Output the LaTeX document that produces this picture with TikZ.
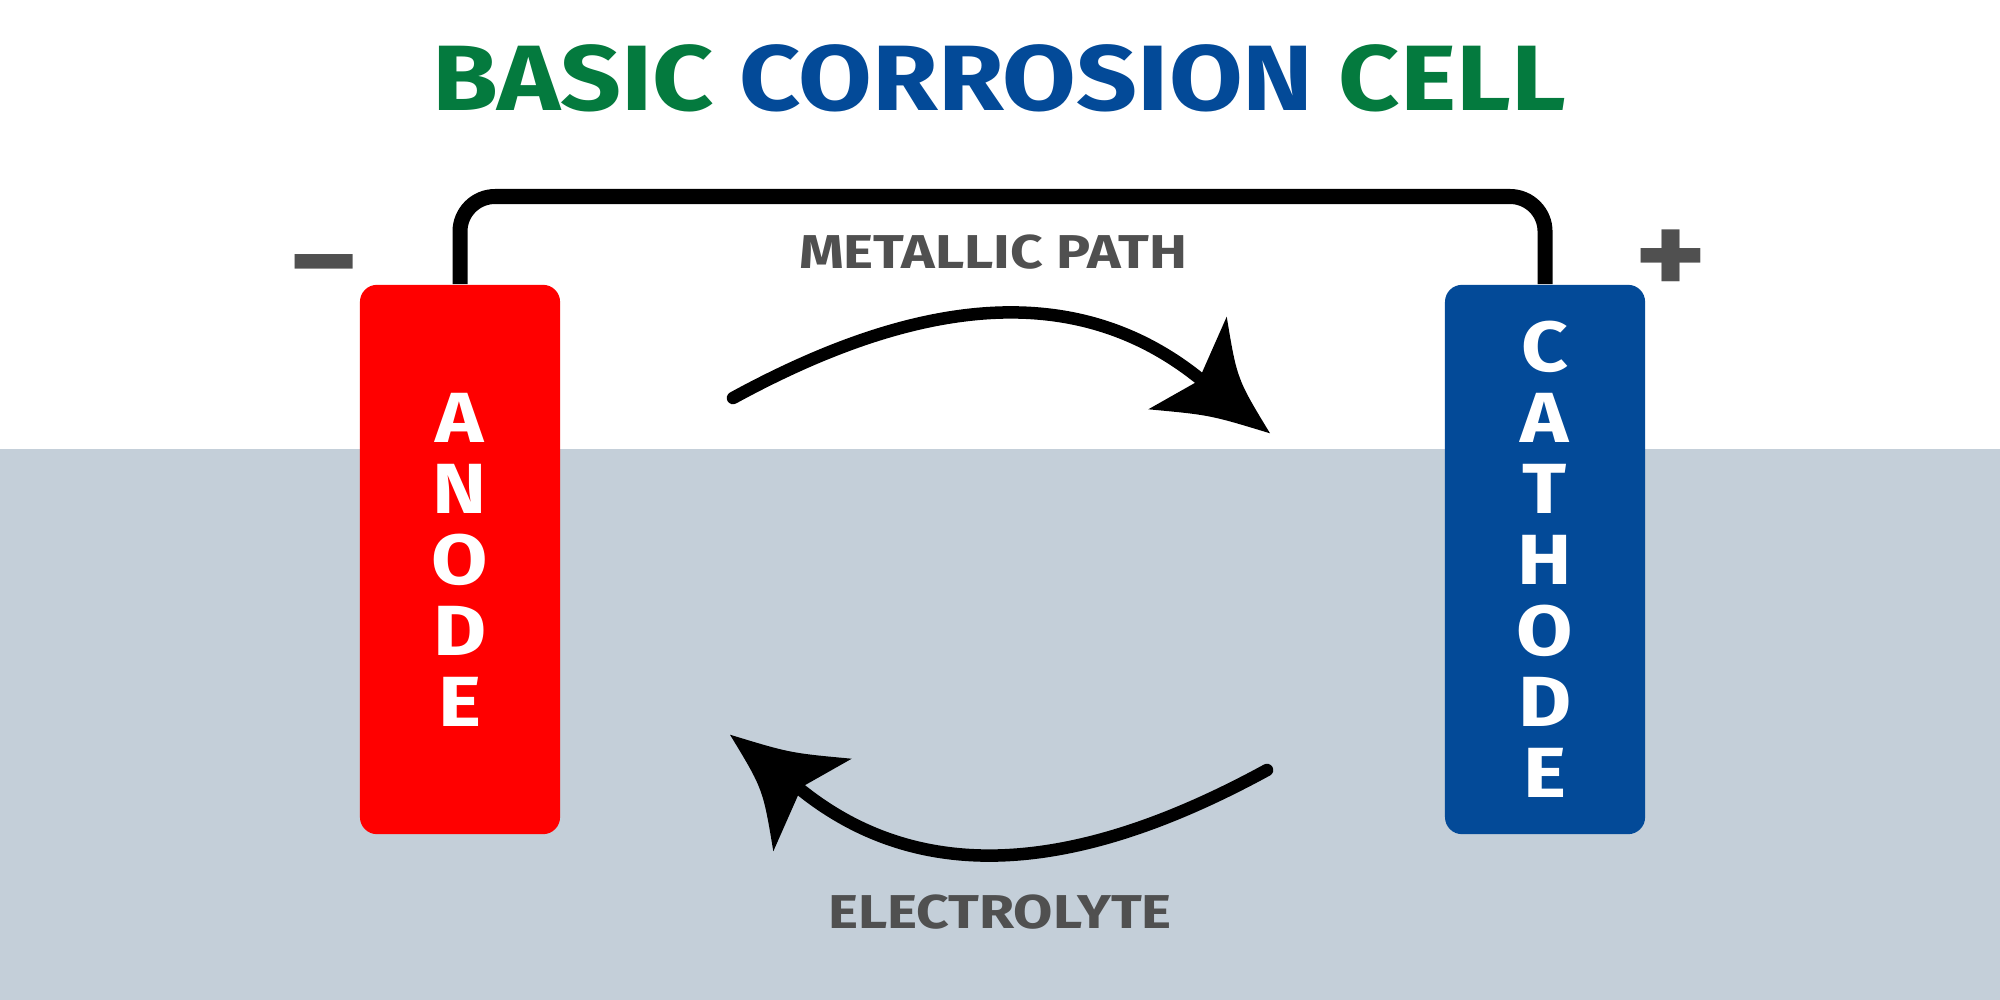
\documentclass[tikz,border=0pt]{standalone}
\usepackage{fontspec}
\setmainfont[FakeStretch=1.15]{Fira Sans}
\newfontfamily\labelfont[FakeStretch=1.2]{Fira Sans}
\usetikzlibrary{positioning}
\definecolor{cellGreen}{RGB}{4,122,62}
\definecolor{cellBlue}{RGB}{3,74,152}
\definecolor{cellRed}{RGB}{255,0,0}
\definecolor{electrolyteGrey}{RGB}{196,207,217}
\definecolor{labelGrey}{RGB}{80,80,80}

\begin{document}
\begin{tikzpicture}[x=0.01cm, y=-0.01cm,
  electrode/.style={rectangle, rounded corners=0.17cm, minimum width=2cm,
                    minimum height=5.49cm, inner sep=0pt, align=center, text=white,
                    font=\fontsize{20.2}{20.2}\selectfont\bfseries},
  lbl/.style={font=\labelfont\fontsize{13.5}{13.5}\selectfont\bfseries, text=labelGrey, inner sep=0pt},
  sign/.style={font=\fontsize{34}{34}\selectfont\bfseries, text=labelGrey, inner sep=0pt},
  wire/.style={line width=0.15cm, rounded corners=0.35cm},
  shaft/.style={line width=0.125cm, line cap=round},
]
  \useasboundingbox (0,0) rectangle (2000,1000);
  % Air and electrolyte
  \fill[white] (0,0) rectangle (2000,1000);
  \fill[electrolyteGrey] (0,449) rectangle (2000,1000);

  % Title
  \node[font=\fontsize{26.4}{26.4}\selectfont\bfseries, inner sep=0pt] (title) at (999,78)
    {\textcolor{cellGreen}{BASIC} \textcolor{cellBlue}{CORROSION} \textcolor{cellGreen}{CELL}};

  % Electrodes
  \node[electrode, fill=cellRed] (anode) at (460,559.5) {A\\N\\O\\D\\E};
  \node[electrode, fill=cellBlue, right=8.83cm of anode] (cathode) {C\\A\\T\\H\\O\\D\\E};
  \node[sign] (minus) at (324,278) {−};
  \node[sign] (plus) at (1671,263) {+};

  % Metallic path
  \coordinate (metaltop) at (1000,196.5);
  \draw[wire] (anode.north) |- (metaltop) -| (cathode.north);
  \node[lbl] (metal) at (993,252) {METALLIC PATH};
  \node[lbl] (electrolyte) at (1000,912) {ELECTROLYTE};

  % Current flow arrows
  \foreach \ang in {0,180}{
    \begin{scope}[rotate around={\ang:(1000,584)}]
      \coordinate (fs\ang) at (733,398);
      \coordinate (fe\ang) at (1205,383);
      \draw[shaft] (fs\ang) .. controls (930.7,290) and (1086.3,283.3) .. (fe\ang);
      \fill (1198.3,381) -- (1226.7,316.7) .. controls (1237,379) .. (1270,433.3)
        .. controls (1210,415) .. (1148.3,409.3) -- cycle;
    \end{scope}
  }
\end{tikzpicture}
\end{document}
